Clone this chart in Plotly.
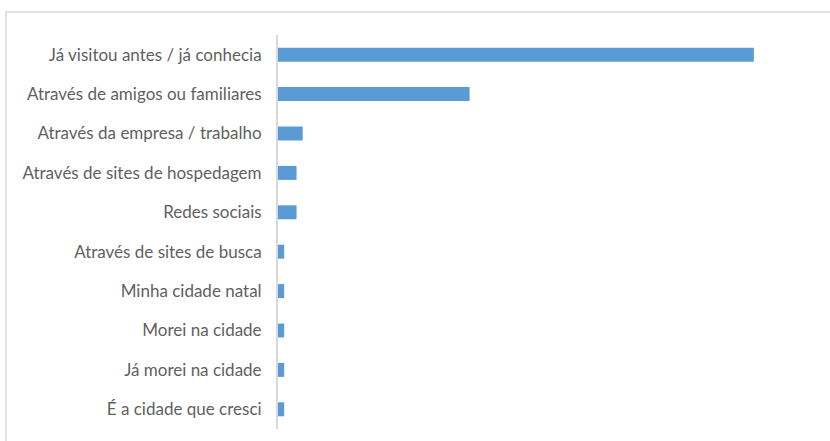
import plotly.graph_objects as go

categories = [
    "Já visitou antes / já conhecia",
    "Através de amigos ou familiares",
    "Através da empresa / trabalho",
    "Através de sites de hospedagem",
    "Redes sociais",
    "Através de sites de busca",
    "Minha cidade natal",
    "Morei na cidade",
    "Já morei na cidade",
    "É a cidade que cresci",
]
values = [77, 31, 4, 3, 3, 1, 1, 1, 1, 1]

W, H = 830, 441
L, R, T, B = 278, 30, 35, 12
pw = W - L - R
ph = H - T - B
px_per_unit = 6.18

fig = go.Figure(go.Bar(
    y=categories, x=values, orientation="h",
    marker=dict(color="#5b9bd5", line=dict(width=0)),
))
fig.update_layout(
    width=W, height=H,
    margin=dict(l=L, r=R, t=T, b=B, pad=0, autoexpand=False),
    paper_bgcolor="white", plot_bgcolor="white",
    bargap=0.645,
    showlegend=False,
    font=dict(family="Lato, Open Sans, sans-serif", size=17, color="#595959"),
    xaxis=dict(range=[0, pw / px_per_unit], showgrid=False, zeroline=False,
               showticklabels=False, showline=False, ticks="", automargin=False),
    yaxis=dict(autorange="reversed", showgrid=False, zeroline=False,
               showline=True, linecolor="#d9d9d9", linewidth=2,
               ticks="", ticklabelstandoff=11, automargin=False,
               tickfont=dict(size=17, color="#5f5f5f")),
    shapes=[dict(type="rect", xref="paper", yref="paper",
                 x0=(6 - L) / pw, x1=(W + 60 - L) / pw,
                 y0=-(B + 30) / ph, y1=(H - B - 12) / ph,
                 line=dict(color="#d9d9d9", width=1.5), fillcolor="rgba(0,0,0,0)",
                 layer="below")],
)
fig.write_html(
    "out.html",
    config={"displayModeBar": False},
    post_script="document.body.style.margin='0px';document.body.style.overflow='hidden';",
)
